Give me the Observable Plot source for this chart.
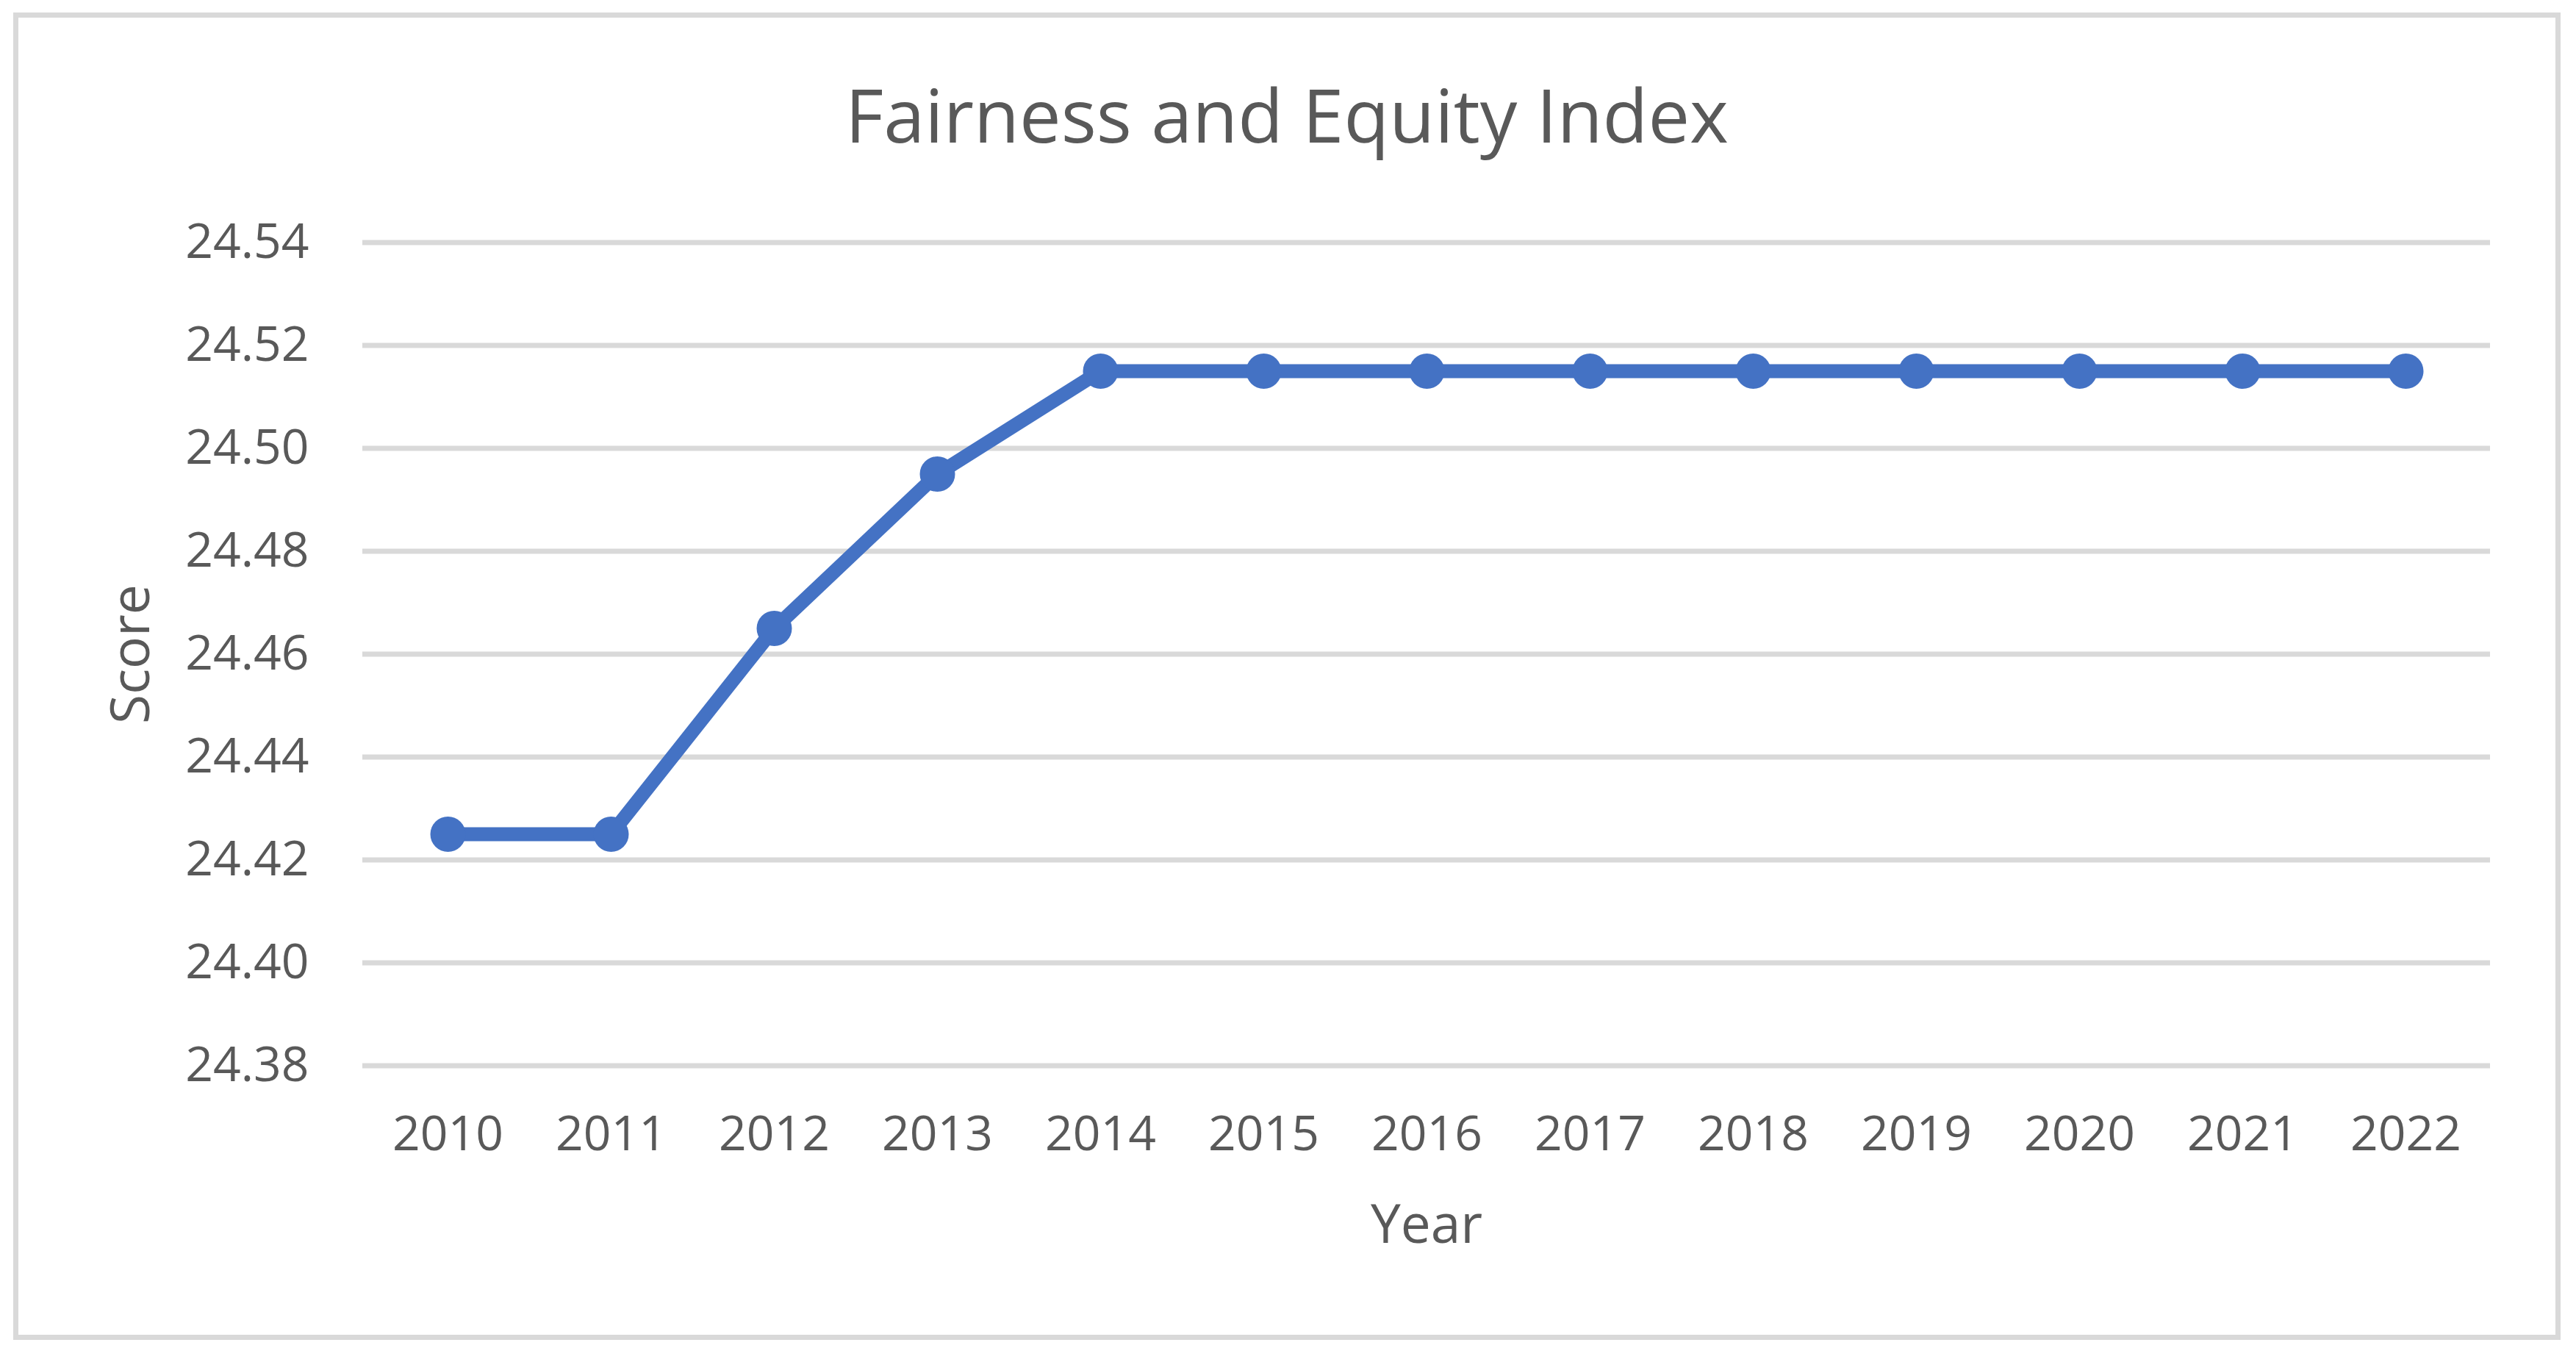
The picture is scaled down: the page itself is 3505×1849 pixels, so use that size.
<!DOCTYPE html>
<html>
<head>
<meta charset="utf-8">
<script src="https://cdn.jsdelivr.net/npm/d3@7"></script>
<script src="https://cdn.jsdelivr.net/npm/@observablehq/plot@0.6"></script>
<style>
  html, body { margin: 0; padding: 0; background: #ffffff; }
  #chart { position: relative; width: 3505px; height: 1849px; background: #ffffff; overflow: hidden; }
  #frame { position: absolute; left: 18px; top: 17px; width: 3466px; height: 1806px; border: 7px solid #d9d9d9; box-sizing: border-box; }
  #title { position: absolute; left: 0; top: 105px; width: 3502px; text-align: center; font-family: "Open Sans", sans-serif; font-size: 101px; line-height: 101px; color: #595959; white-space: nowrap; }
  #plot { position: absolute; left: 0; top: 230px; }
</style>
</head>
<body>
<div id="chart">
  <div id="frame"></div>
  <div id="title">Fairness and Equity Index</div>
  <div id="plot"></div>
</div>
<script>
const years = ["2010", "2011", "2012", "2013", "2014", "2015", "2016", "2017", "2018", "2019", "2020", "2021", "2022"];
const scores = [24.425, 24.425, 24.465, 24.495, 24.515, 24.515, 24.515, 24.515, 24.515, 24.515, 24.515, 24.515, 24.515];
const yTicks = [24.38, 24.40, 24.42, 24.44, 24.46, 24.48, 24.50, 24.52, 24.54];
const xLabel = "Year";
const yLabel = "Score";

const data = years.map((year, i) => ({year, score: scores[i]}));

const chart = Plot.plot({
  width: 3505,
  height: 1619,
  marginLeft: 493,
  marginRight: 117,
  marginTop: 99.5,
  marginBottom: 399.5,
  style: {fontFamily: "'Open Sans', sans-serif", fontSize: "66px", color: "#595959", background: "transparent", overflow: "visible"},
  x: {type: "band", domain: years, padding: 0},
  y: {domain: [24.38, 24.54]},
  marks: [
    Plot.gridY(yTicks, {stroke: "#d9d9d9", strokeWidth: 7, strokeOpacity: 1}),
    Plot.axisY(yTicks, {tickSize: 0, tickPadding: 73, tickFormat: d3.format(".2f"), label: null, fontSize: 66, fill: "#595959"}),
    Plot.axisX({tickSize: 0, tickPadding: 68, label: null, fontSize: 66, fill: "#595959"}),
    Plot.line(data, {x: "year", y: "score", stroke: "#4472C4", strokeWidth: 19, strokeLinejoin: "round"}),
    Plot.dot(data, {x: "year", y: "score", r: 24, fill: "#4472C4", stroke: "none"}),
    Plot.text([yLabel], {text: d => d, frameAnchor: "left", textAnchor: "middle", lineAnchor: "middle", dx: -314, rotate: -90, fontSize: 73, fill: "#595959"}),
    Plot.text([xLabel], {text: d => d, frameAnchor: "bottom", textAnchor: "middle", lineAnchor: "middle", dy: 218, fontSize: 73, fill: "#595959"})
  ]
});
document.getElementById("plot").appendChild(chart);
</script>
</body>
</html>
